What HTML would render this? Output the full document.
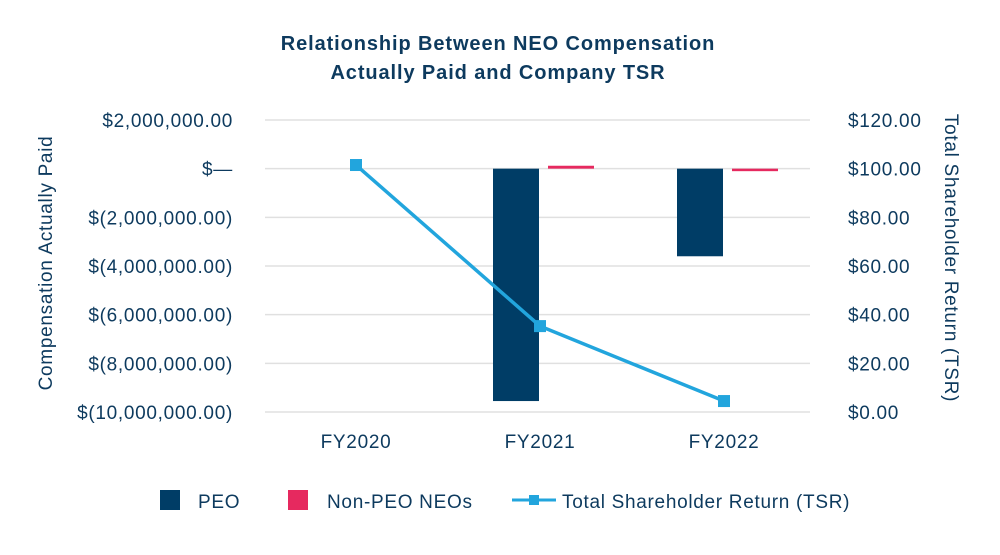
<!DOCTYPE html>
<html><head><meta charset="utf-8"><style>
body{margin:0;background:#fff;}
svg text{font-family:"Liberation Sans",sans-serif;fill:#0d3a5e;}
.t{font-size:19px;letter-spacing:0.7px;}
</style></head><body>
<svg width="1000" height="550">
<text x="498" y="50" text-anchor="middle" font-size="20" font-weight="bold" letter-spacing="0.9">Relationship Between NEO Compensation</text>
<text x="498" y="79" text-anchor="middle" font-size="20" font-weight="bold" letter-spacing="0.9">Actually Paid and Company TSR</text>
<g id="grid"></g><g id="bars"></g><g id="line"></g><g id="axes"></g>
<text class="t" transform="translate(52,263) rotate(-90)" text-anchor="middle">Compensation Actually Paid</text>
<text class="t" transform="translate(945,258) rotate(90)" text-anchor="middle">Total Shareholder Return (TSR)</text>
<g>
<rect x="160" y="490" width="20" height="20" fill="#003d66"/>
<text class="t" x="198" y="508">PEO</text>
<rect x="288" y="490" width="20" height="20" fill="#e6295f"/>
<text class="t" x="327" y="508">Non-PEO NEOs</text>
<line x1="512" y1="500" x2="556" y2="500" stroke="#22a5dd" stroke-width="3"/>
<rect x="529" y="495" width="10" height="10" fill="#22a5dd"/>
<text class="t" x="562" y="508">Total Shareholder Return (TSR)</text>
</g>
</svg>
<script>
const categories=["FY2020","FY2021","FY2022"];
const peo=[0,-9550000,-3600000];
const nonPeo=[0,120000,-80000];
const tsr=[101.5,35.3,4.5];
const leftTicks=[2000000,0,-2000000,-4000000,-6000000,-8000000,-10000000];
const leftLabels=["$2,000,000.00","$—","$(2,000,000.00)","$(4,000,000.00)","$(6,000,000.00)","$(8,000,000.00)","$(10,000,000.00)"];
const rightTicks=[120,100,80,60,40,20,0];
const rightLabels=["$120.00","$100.00","$80.00","$60.00","$40.00","$20.00","$0.00"];
const NS="http://www.w3.org/2000/svg";
const X0=265,X1=810,YT=120,YB=412,BAND=184;
const yL=v=>YT+(2000000-v)/12000000*(YB-YT);
const yR=v=>YB-v/120*(YB-YT);
const xC=i=>X0+BAND*(i+0.5)-1;
function mk(tag,attrs,parent){const e=document.createElementNS(NS,tag);for(const k in attrs)e.setAttribute(k,attrs[k]);document.getElementById(parent).appendChild(e);return e;}
leftTicks.forEach((t,i)=>{
 const g=mk("line",{x1:X0,x2:X1,y1:yL(t),y2:yL(t),stroke:"#e0e0e0","stroke-width":1.5},"grid");
 
 
 const l=mk("text",{x:233,y:yL(t)+7,"text-anchor":"end",class:"t"},"axes");l.textContent=leftLabels[i];
 
 
});
rightTicks.forEach((t,i)=>{
 const l=mk("text",{x:848,y:yR(t)+7,class:"t"},"axes");l.textContent=rightLabels[i];
 
 
});
categories.forEach((c,i)=>{
 const l=mk("text",{x:xC(i),y:448,"text-anchor":"middle",class:"t"},"axes");l.textContent=c;
 
 
 const cx=xC(i),w=46;
 if(peo[i]!==0){const y0=yL(0),y1=yL(peo[i]);
  const b=mk("rect",{x:cx-w-1,y:Math.min(y0,y1),width:w,height:Math.abs(y1-y0),fill:"#003d66"},"bars");
  
  }
 if(nonPeo[i]!==0){const y0=yL(0),y1=yL(nonPeo[i]);
  const b=mk("rect",{x:cx+8,y:Math.min(y0,y1),width:w,height:Math.max(Math.abs(y1-y0),2.5),fill:"#e6295f"},"bars");
  
  }
});
const pts=tsr.map((v,i)=>[xC(i),yR(v)]);
const pl=mk("polyline",{points:pts.map(p=>p.join(",")).join(" "),fill:"none",stroke:"#22a5dd","stroke-width":3.5},"line");


pts.forEach(p=>{const m=mk("rect",{x:p[0]-6,y:p[1]-6,width:12,height:12,fill:"#22a5dd"},"line");
 
 });
</script>
</body></html>
